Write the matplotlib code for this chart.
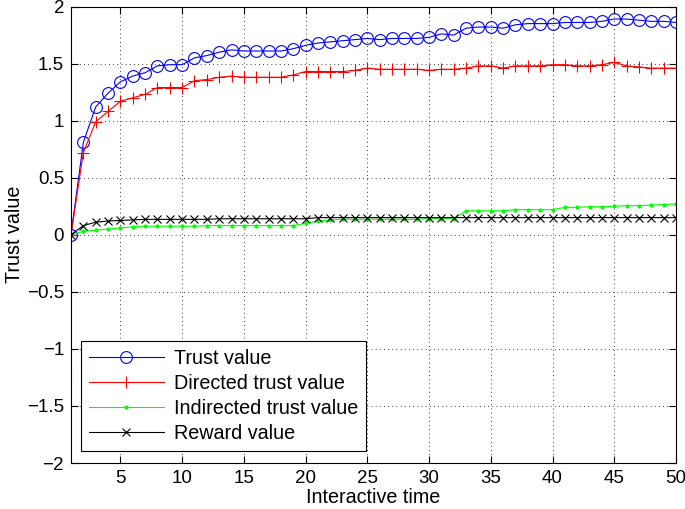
import numpy as np
import matplotlib
matplotlib.use("Agg")
import matplotlib.pyplot as plt
from matplotlib.ticker import FuncFormatter

x = list(range(1, 51))

trust = [0.00, 0.81, 1.12, 1.24, 1.34, 1.39, 1.42, 1.48, 1.49, 1.49,
         1.55, 1.57, 1.60, 1.62, 1.61, 1.61, 1.61, 1.61, 1.63, 1.66,
         1.68, 1.69, 1.70, 1.71, 1.72, 1.71, 1.72, 1.72, 1.72, 1.73,
         1.76, 1.75, 1.81, 1.82, 1.82, 1.81, 1.84, 1.85, 1.85, 1.85,
         1.86, 1.86, 1.86, 1.87, 1.89, 1.89, 1.88, 1.87, 1.87, 1.86]

directed = [0.00, 0.72, 0.99, 1.08, 1.17, 1.20, 1.23, 1.29, 1.29, 1.29,
            1.35, 1.36, 1.38, 1.39, 1.38, 1.38, 1.38, 1.38, 1.40, 1.43,
            1.43, 1.43, 1.43, 1.44, 1.46, 1.45, 1.45, 1.45, 1.45, 1.44,
            1.45, 1.45, 1.46, 1.48, 1.48, 1.46, 1.48, 1.48, 1.48, 1.49,
            1.49, 1.48, 1.48, 1.49, 1.51, 1.48, 1.47, 1.46, 1.46, 1.46]

indirected = [0.00, 0.03, 0.04, 0.05, 0.06, 0.07, 0.075, 0.075, 0.075, 0.075,
              0.075, 0.08, 0.08, 0.08, 0.08, 0.08, 0.08, 0.08, 0.08, 0.10,
              0.12, 0.13, 0.135, 0.135, 0.135, 0.135, 0.135, 0.135, 0.135, 0.14,
              0.14, 0.14, 0.21, 0.21, 0.21, 0.21, 0.22, 0.22, 0.22, 0.22,
              0.24, 0.24, 0.245, 0.245, 0.25, 0.255, 0.255, 0.26, 0.265, 0.27]

reward = [0.00, 0.08, 0.11, 0.12, 0.125, 0.13, 0.135, 0.135, 0.135, 0.135,
          0.135, 0.135, 0.14, 0.14, 0.14, 0.14, 0.14, 0.14, 0.14, 0.14,
          0.15, 0.15, 0.15, 0.15, 0.15, 0.15, 0.15, 0.15, 0.15, 0.15,
          0.15, 0.15, 0.15, 0.15, 0.15, 0.15, 0.15, 0.15, 0.15, 0.15,
          0.15, 0.15, 0.15, 0.15, 0.15, 0.15, 0.15, 0.15, 0.15, 0.15]

labels = ["Trust value", "Directed trust value", "Indirected trust value", "Reward value"]
xticks = [5, 10, 15, 20, 25, 30, 35, 40, 45, 50]
yticks = [-2, -1.5, -1, -0.5, 0, 0.5, 1, 1.5, 2]

plt.rcParams['font.family'] = ['Liberation Sans', 'DejaVu Sans']
plt.rcParams['axes.unicode_minus'] = True

fs = 14.2
fig = plt.figure(figsize=(6.85, 5.09), dpi=100)
ax = fig.add_axes([71/685, 1-463/509, (676-71)/685, (463-6.5)/509])

lw = 0.8
ax.plot(x, trust, color=(0, 0, 1), lw=lw, marker='o', ms=8.5, mfc='none', mew=0.8, label=labels[0])
ax.plot(x, directed, color=(1, 0, 0), lw=lw, marker='+', ms=8, mew=0.8, label=labels[1])
ax.plot(x, indirected, color=(0, 1, 0), lw=lw, marker='.', ms=4, label=labels[2])
ax.plot(x, reward, color='black', lw=lw, marker='x', ms=6, mew=0.8, label=labels[3])

ax.set_xlim(1, 50)
ax.set_ylim(-2, 2)
ax.set_xticks(xticks)
ax.set_yticks(yticks)

def fmt(v, pos):
    s = ('%g' % v)
    return s.replace('-', '\u2212')
ax.yaxis.set_major_formatter(FuncFormatter(fmt))

ax.tick_params(direction='in', length=5, width=0.8, labelsize=fs - 0.7, top=True, right=True, pad=5)
ax.grid(True, linestyle=(0, (1, 4)), color='black', lw=0.6)
for s in ax.spines.values():
    s.set_linewidth(0.8)

ax.set_xlabel("Interactive time", fontsize=fs, labelpad=1)
ax.set_ylabel("Trust value", fontsize=fs, labelpad=2)

leg = ax.legend(loc='lower left', bbox_to_anchor=((81-71)/605, (463-451)/456.5), fontsize=fs,
                fancybox=False, edgecolor='black', framealpha=1, handlelength=3.8,
                borderaxespad=0, labelspacing=0.3, borderpad=0.4, handletextpad=0.5)
leg.get_frame().set_linewidth(0.8)

fig.savefig("out.png", dpi=100)
